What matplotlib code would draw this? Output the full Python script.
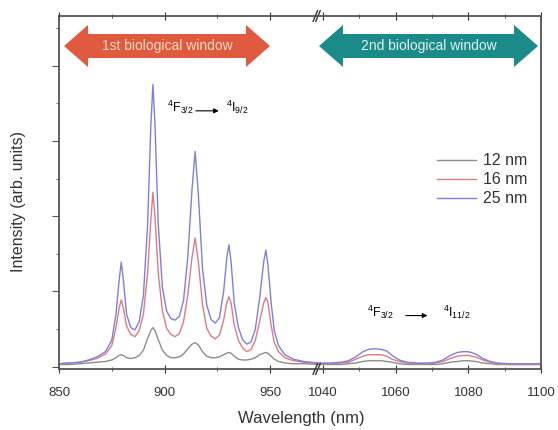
import matplotlib
matplotlib.use('Agg')
import matplotlib.pyplot as plt
from matplotlib.patches import Polygon
from matplotlib.ticker import MultipleLocator, NullFormatter

plt.rcParams['font.family'] = ['Liberation Sans', 'DejaVu Sans']
plt.rcParams['mathtext.default'] = 'regular'

# data (intensity in arb. units)
wl_left = [850, 855, 860, 864, 868, 872, 875, 877, 878.5, 879.5, 880.5, 882, 884, 886, 888,
           890, 892, 893.5, 894.5, 895.5, 897, 899, 901, 903, 905, 907, 909, 911, 913, 914.5,
           916, 918, 920, 922, 924, 926, 928, 929.5, 930.5, 931.5, 933, 935, 937, 939, 941,
           943, 945, 947, 948, 949, 950.5, 952, 954, 957, 961, 966, 973]

i25_left = [0.04, 0.05, 0.06, 0.09, 0.13, 0.20, 0.35, 0.70, 1.15, 1.39, 1.15, 0.70, 0.52, 0.49, 0.60,
            0.95, 1.90, 3.20, 3.75, 3.20, 1.90, 1.05, 0.74, 0.64, 0.62, 0.67, 0.88, 1.45, 2.35, 2.86,
            2.30, 1.30, 0.82, 0.63, 0.58, 0.65, 1.00, 1.45, 1.62, 1.40, 0.85, 0.52, 0.36, 0.30, 0.33,
            0.50, 0.90, 1.40, 1.55, 1.35, 0.85, 0.48, 0.28, 0.16, 0.10, 0.07, 0.05]

i16_left = [0.04, 0.05, 0.06, 0.08, 0.11, 0.17, 0.28, 0.52, 0.78, 0.89, 0.78, 0.54, 0.43, 0.40, 0.48,
            0.70, 1.25, 1.95, 2.32, 1.98, 1.25, 0.74, 0.51, 0.43, 0.40, 0.44, 0.60, 0.95, 1.45, 1.71,
            1.40, 0.82, 0.51, 0.41, 0.37, 0.42, 0.62, 0.85, 0.93, 0.85, 0.56, 0.35, 0.25, 0.20, 0.23,
            0.35, 0.60, 0.85, 0.92, 0.85, 0.55, 0.32, 0.20, 0.12, 0.08, 0.06, 0.04]

i12_left = [0.03, 0.03, 0.04, 0.05, 0.06, 0.07, 0.09, 0.12, 0.15, 0.16, 0.15, 0.12, 0.11, 0.12, 0.15,
            0.22, 0.38, 0.48, 0.52, 0.48, 0.36, 0.22, 0.15, 0.12, 0.12, 0.13, 0.17, 0.24, 0.30, 0.32,
            0.29, 0.20, 0.14, 0.12, 0.12, 0.13, 0.16, 0.18, 0.19, 0.18, 0.14, 0.10, 0.09, 0.09, 0.10,
            0.12, 0.16, 0.18, 0.19, 0.18, 0.14, 0.10, 0.07, 0.05, 0.04, 0.04, 0.03]

wl_right = [1038.5, 1042, 1045, 1047, 1049, 1051, 1052.5, 1054.3, 1056, 1057.5, 1059, 1061, 1063, 1066,
            1069, 1071, 1073, 1075, 1077, 1078.5, 1080, 1082, 1084, 1086, 1088, 1091, 1095, 1100]

i25_right = [0.05, 0.05, 0.06, 0.08, 0.13, 0.20, 0.23, 0.24, 0.23, 0.21, 0.15, 0.09, 0.06, 0.05,
             0.05, 0.06, 0.09, 0.15, 0.19, 0.20, 0.20, 0.17, 0.11, 0.07, 0.05, 0.04, 0.04, 0.04]

i16_right = [0.04, 0.04, 0.05, 0.06, 0.10, 0.14, 0.16, 0.16, 0.16, 0.14, 0.10, 0.07, 0.05, 0.04,
             0.04, 0.05, 0.07, 0.11, 0.14, 0.15, 0.15, 0.13, 0.09, 0.06, 0.04, 0.03, 0.03, 0.03]

i12_right = [0.03, 0.03, 0.03, 0.04, 0.05, 0.07, 0.08, 0.08, 0.08, 0.07, 0.06, 0.04, 0.03, 0.03,
             0.03, 0.03, 0.04, 0.06, 0.07, 0.08, 0.08, 0.07, 0.05, 0.04, 0.03, 0.03, 0.03, 0.03]

sizes = ['12 nm', '16 nm', '25 nm']
colors = ['#8a8f88', '#e07a84', '#7f7fe0']

W, H = 558, 430
fig = plt.figure(figsize=(W / 100, H / 100), dpi=100)

def fx(px):
    return px / W

def fy(py):
    return 1 - py / H

ax1 = fig.add_axes([fx(59), fy(369), fx(318) - fx(59), fy(16) - fy(369)])
ax2 = fig.add_axes([fx(318), fy(369), fx(541) - fx(318), fy(16) - fy(369)])

left_series = [i12_left, i16_left, i25_left]
right_series = [i12_right, i16_right, i25_right]
for lab, col, yl, yr in zip(sizes, colors, left_series, right_series):
    ax1.plot(wl_left, yl, color=col, lw=1.0, label=lab)
    ax2.plot(wl_right, yr, color=col, lw=1.0)

ax1.set_xlim(850, 972.7)
ax2.set_xlim(1038.6, 1100)
for ax in (ax1, ax2):
    ax.set_ylim(-0.03, 4.66)
    ax.yaxis.set_major_locator(MultipleLocator(1))
    ax.yaxis.set_minor_locator(MultipleLocator(0.5))
    ax.yaxis.set_major_formatter(NullFormatter())
    for s in ax.spines.values():
        s.set_color('#555555')
        s.set_linewidth(1.3)
    ax.tick_params(axis='x', which='both', direction='inout', top=True, labelsize=9.5,
                   pad=10, colors='#333333')
    ax.tick_params(axis='x', which='major', length=6)
    ax.tick_params(axis='x', which='minor', length=3.5)

ax1.xaxis.set_major_locator(MultipleLocator(50))
ax1.xaxis.set_minor_locator(MultipleLocator(25))
ax2.xaxis.set_major_locator(MultipleLocator(20))
ax2.xaxis.set_minor_locator(MultipleLocator(10))

ax1.spines['right'].set_visible(False)
ax2.spines['left'].set_visible(False)
ax1.tick_params(axis='y', which='major', direction='out', length=5, color='#555555')
ax1.tick_params(axis='y', which='minor', direction='out', length=2.5, color='#555555')
ax2.tick_params(axis='y', which='both', left=False, right=False)

# break marks
for yb in (0, 1):
    for dx in (-0.012, 0.0):
        ax2.plot([dx - 0.01, dx + 0.01], [yb - 0.015, yb + 0.015], transform=ax2.transAxes,
                 color='#333333', lw=1.0, clip_on=False)

# transitions
ax1.text(901.2, 3.45, r'$^{4}$F$_{3/2}$', fontsize=9, va='center', ha='left')
ax1.annotate('', xy=(927.0, 3.40), xytext=(913.5, 3.40),
             arrowprops=dict(arrowstyle='-|>', color='black', lw=0.8, mutation_scale=7))
ax1.text(929.0, 3.45, r'$^{4}$I$_{9/2}$', fontsize=9, va='center', ha='left')

ax2.text(1052.0, 0.72, r'$^{4}$F$_{3/2}$', fontsize=9, va='center', ha='left')
ax2.annotate('', xy=(1069.5, 0.68), xytext=(1062.0, 0.68),
             arrowprops=dict(arrowstyle='-|>', color='black', lw=0.8, mutation_scale=7))
ax2.text(1073.0, 0.72, r'$^{4}$I$_{11/2}$', fontsize=9, va='center', ha='left')

# biological window arrows
def double_arrow(x0, x1, yc, color, tcolor, label):
    hh, bh, hl = 21, 12, 24
    pts = [(x0, yc), (x0 + hl, yc - hh), (x0 + hl, yc - bh), (x1 - hl, yc - bh),
           (x1 - hl, yc - hh), (x1, yc), (x1 - hl, yc + hh), (x1 - hl, yc + bh),
           (x0 + hl, yc + bh), (x0 + hl, yc + hh)]
    poly = Polygon([(fx(x), fy(y)) for x, y in pts], closed=True, transform=fig.transFigure,
                   facecolor=color, edgecolor='none', zorder=5)
    fig.patches.append(poly)
    fig.text(fx((x0 + x1) / 2), fy(yc), label, ha='center', va='center', fontsize=10,
             color=tcolor, zorder=6)

double_arrow(64, 270, 46, '#e05a40', '#f8dcc4', '1st biological window')
double_arrow(319, 538, 46, '#1b8b89', '#dff2f0', '2nd biological window')

fig.legend(loc='upper left', bbox_to_anchor=(fx(423), fy(139)), frameon=False, fontsize=11.5,
           handlelength=2.4, labelspacing=0.25, handletextpad=0.45, labelcolor='#333333')

fig.text(fx(19), fy(202), 'Intensity (arb. units)', rotation=90, ha='center', va='center',
         fontsize=11.5, color='#333333')
fig.text(fx(301), fy(419), 'Wavelength (nm)', ha='center', va='center', fontsize=12,
         color='#333333')

fig.savefig('out.png', dpi=100)
